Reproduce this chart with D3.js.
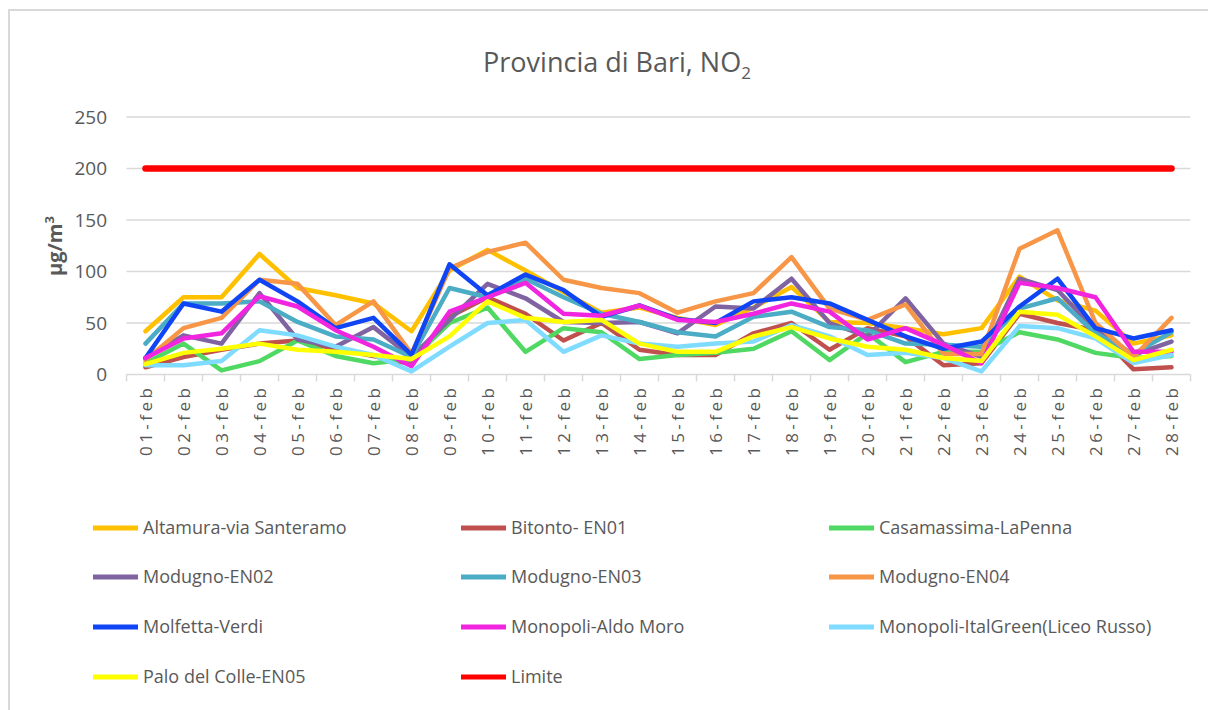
<!DOCTYPE html>
<html>
<head>
<meta charset="utf-8">
<script src="https://cdn.jsdelivr.net/npm/d3@7"></script>
<style>
  body { margin: 0; background: #fff; }
  text { font-family: "Open Sans", sans-serif; fill: #595959; }
</style>
</head>
<body>
<div id="chart"></div>
<script>
// days of february
const days = d3.range(1, 29).map(d => `${String(d).padStart(2, '0')}-feb`)
const yTicks = [0, 50, 100, 150, 200, 250]

const seriesNames = [
  'Altamura-via Santeramo', 'Bitonto- EN01', 'Casamassima-LaPenna',
  'Modugno-EN02', 'Modugno-EN03', 'Modugno-EN04',
  'Molfetta-Verdi', 'Monopoli-Aldo Moro', 'Monopoli-ItalGreen(Liceo Russo)',
  'Palo del Colle-EN05', 'Limite'
]
const seriesColors = [
  '#FFC000', '#C0504D', '#4FD862',
  '#8064A2', '#4BACC6', '#F79646',
  '#0F45F5', '#F125E0', '#7FDBFF',
  '#FFFF00', '#FF0000'
]

// values (µg/m3)
const altamura    = [42, 75, 75, 117, 84, 77, 69, 42, 101, 121, 101, 80, 60, 65, 55, 48, 65, 85, 51, 50, 45, 39, 45, 95, 72, 62, 30, 38]
const bitonto     = [7, 17, 24, 30, 33, 25, 18, 10, 56, 75, 59, 33, 50, 24, 19, 19, 40, 50, 24, 45, 37, 9, 11, 59, 50, 43, 5, 7]
const casamassima = [11, 30, 4, 13, 33, 18, 11, 15, 50, 65, 22, 45, 41, 15, 19, 21, 25, 42, 14, 40, 12, 22, 22, 41, 34, 21, 16, 18]
const modugno2    = [16, 38, 30, 79, 34, 27, 46, 17, 53, 88, 74, 51, 50, 51, 40, 66, 64, 93, 50, 37, 74, 30, 17, 93, 82, 43, 19, 32]
const modugno3    = [30, 69, 69, 71, 51, 37, 34, 17, 84, 75, 93, 75, 59, 51, 41, 37, 56, 61, 46, 43, 30, 29, 27, 64, 74, 40, 20, 41]
const modugno4    = [14, 45, 55, 92, 88, 48, 71, 20, 103, 119, 128, 92, 84, 79, 60, 71, 79, 114, 64, 53, 68, 20, 20, 122, 140, 50, 17, 55]
const molfetta    = [16, 69, 61, 92, 71, 45, 55, 19, 107, 77, 97, 82, 56, 67, 54, 50, 71, 75, 69, 53, 37, 25, 32, 66, 93, 45, 35, 43]
const aldoMoro    = [16, 35, 40, 76, 66, 43, 27, 8, 61, 75, 89, 59, 57, 67, 53, 51, 59, 69, 61, 34, 45, 29, 11, 89, 84, 75, 22, 22]
const italGreen   = [9, 9, 13, 43, 38, 27, 19, 3, 27, 50, 53, 22, 38, 30, 27, 30, 32, 48, 37, 19, 21, 16, 3, 47, 45, 35, 11, 19]
const palo        = [10, 21, 25, 30, 24, 22, 19, 15, 37, 71, 55, 51, 53, 30, 22, 22, 37, 46, 35, 27, 24, 16, 13, 61, 58, 37, 14, 24]
const limite      = days.map(() => 200)

const seriesValues = [altamura, bitonto, casamassima, modugno2, modugno3, modugno4,
  molfetta, aldoMoro, italGreen, palo, limite]

const series = seriesNames.map((name, i) => ({
  name, color: seriesColors[i], values: seriesValues[i]
}))

// dimension stuff
const width = 1208
const height = 710
const plotLeft = 126.5
const plotRight = 1190.5
const plotTop = 117
const plotBottom = 374.5

const $svg = d3.select('#chart').append('svg')
  .attr('width', width)
  .attr('height', height)

// outer frame
$svg.append('rect')
  .attr('x', 9).attr('y', 10)
  .attr('width', width + 20).attr('height', height + 20)
  .attr('fill', 'none')
  .attr('stroke', '#d9d9d9')
  .attr('stroke-width', 2)

// scales
const x = d3.scalePoint().domain(days).range([plotLeft, plotRight]).padding(0.5)
const y = d3.scaleLinear().domain([0, 250]).range([plotBottom, plotTop])
const step = x.step()

// gridlines
$svg.append('g')
  .selectAll('line')
  .data(yTicks)
  .join('line')
  .attr('x1', plotLeft).attr('x2', plotRight)
  .attr('y1', d => y(d)).attr('y2', d => y(d))
  .attr('stroke', '#d9d9d9')
  .attr('stroke-width', 1.5)

// x ticks between categories
$svg.append('g')
  .selectAll('line')
  .data(d3.range(days.length + 1))
  .join('line')
  .attr('x1', d => plotLeft + d * step).attr('x2', d => plotLeft + d * step)
  .attr('y1', plotBottom).attr('y2', plotBottom + 7)
  .attr('stroke', '#d9d9d9')
  .attr('stroke-width', 1.5)

// y tick labels
$svg.append('g')
  .selectAll('text')
  .data(yTicks)
  .join('text')
  .attr('x', 107)
  .attr('y', d => y(d))
  .attr('dy', '0.35em')
  .attr('text-anchor', 'end')
  .style('font-size', '19px')
  .text(d => d)

// x tick labels, rotated
$svg.append('g')
  .selectAll('text')
  .data(days)
  .join('text')
  .attr('transform', d => `translate(${x(d)}, ${plotBottom + 10}) rotate(-90)`)
  .attr('dy', '0.36em')
  .attr('text-anchor', 'end')
  .style('font-size', '17px')
  .style('letter-spacing', '3.5px')
  .text(d => d)

// y axis title
const yTitle = $svg.append('text')
  .attr('transform', 'translate(62, 246) rotate(-90)')
  .attr('text-anchor', 'middle')
  .style('font-size', '20px')
  .style('font-weight', 'bold')
yTitle.append('tspan').text('µg/m')
yTitle.append('tspan').attr('dy', '-8').style('font-size', '13px').text('3')

// chart title
const title = $svg.append('text')
  .attr('x', 617)
  .attr('y', 72)
  .attr('text-anchor', 'middle')
  .style('font-size', '27px')
title.append('tspan').text('Provincia di Bari, NO')
title.append('tspan').attr('dy', '7').style('font-size', '17px').text('2')

// lines
const line = d3.line()
  .x((d, i) => x(days[i]))
  .y(d => y(d))

$svg.append('g')
  .selectAll('path')
  .data(series)
  .join('path')
  .attr('d', d => line(d.values))
  .attr('fill', 'none')
  .attr('stroke', d => d.color)
  .attr('stroke-width', d => d.name === 'Limite' ? 6.5 : 4.5)
  .attr('stroke-linejoin', 'round')
  .attr('stroke-linecap', 'round')

// legend, 3 columns
const legendX = [93, 461, 829]
const legendY = [528, 577, 627, 677]

const $legend = $svg.append('g')
  .selectAll('g')
  .data(series)
  .join('g')
  .attr('transform', (d, i) => `translate(${legendX[i % 3]}, ${legendY[Math.floor(i / 3)]})`)

$legend.append('line')
  .attr('x1', 0).attr('x2', 45)
  .attr('stroke', d => d.color)
  .attr('stroke-width', 5)

$legend.append('text')
  .attr('x', 50)
  .attr('dy', '0.35em')
  .style('font-size', '18px')
  .text(d => d.name)
</script>
</body>
</html>
